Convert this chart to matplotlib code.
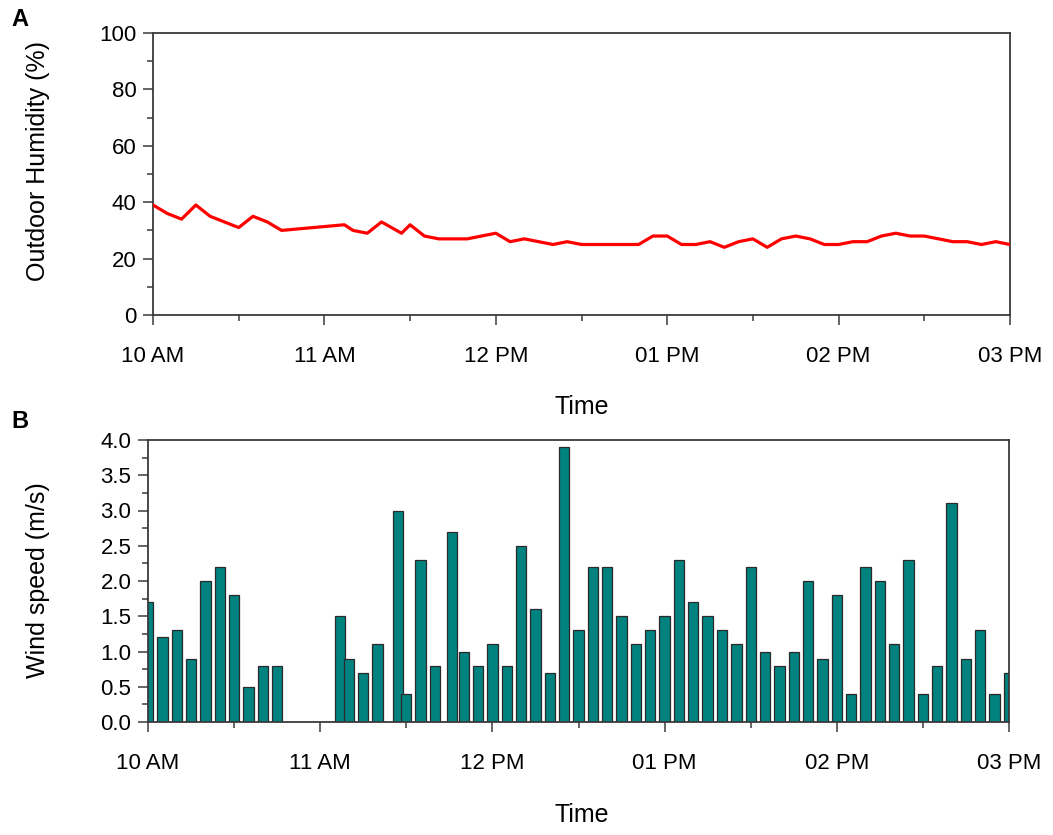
import matplotlib
matplotlib.use("Agg")
import matplotlib.pyplot as plt
from matplotlib.ticker import MultipleLocator
import numpy as np

plt.rcParams['font.family'] = ['Liberation Sans', 'DejaVu Sans']

# ---- Data (minutes after 10:00) ----
hum_minutes = [0, 5, 10, 15, 20, 25, 30, 35, 40, 45,
               67, 70, 75, 80, 87, 90, 95, 100, 106, 110, 115, 120, 125, 130, 135, 140,
               145, 150, 155, 160, 165, 170, 175, 180, 185, 190, 195, 200, 205, 210,
               215, 220, 225, 230, 235, 240, 245, 250, 255, 260, 265, 270, 275, 280,
               285, 290, 295, 300]
humidity = [39, 36, 34, 39, 35, 33, 31, 35, 33, 30,
            32, 30, 29, 33, 29, 32, 28, 27, 27, 27, 28, 29, 26, 27, 26, 25,
            26, 25, 25, 25, 25, 25, 28, 28, 25, 25, 26, 24, 26, 27,
            24, 27, 28, 27, 25, 25, 26, 26, 28, 29, 28, 28, 27, 26,
            26, 25, 26, 25]

wind_minutes = [0, 5, 10, 15, 20, 25, 30, 35, 40, 45,
                67, 70, 75, 80, 87, 90, 95, 100, 106, 110, 115, 120, 125, 130, 135, 140,
                145, 150, 155, 160, 165, 170, 175, 180, 185, 190, 195, 200, 205, 210,
                215, 220, 225, 230, 235, 240, 245, 250, 255, 260, 265, 270, 275, 280,
                285, 290, 295, 300]
wind_speed = [1.7, 1.2, 1.3, 0.9, 2.0, 2.2, 1.8, 0.5, 0.8, 0.8,
              1.5, 0.9, 0.7, 1.1, 3.0, 0.4, 2.3, 0.8, 2.7, 1.0, 0.8, 1.1, 0.8, 2.5, 1.6, 0.7,
              3.9, 1.3, 2.2, 2.2, 1.5, 1.1, 1.3, 1.5, 2.3, 1.7, 1.5, 1.3, 1.1, 2.2,
              1.0, 0.8, 1.0, 2.0, 0.9, 1.8, 0.4, 2.2, 2.0, 1.1, 2.3, 0.4, 0.8, 3.1,
              0.9, 1.3, 0.4, 0.7]

hour_ticks = [10, 11, 12, 13, 14, 15]
hour_labels = ['10 AM', '11 AM', '12 PM', '01 PM', '02 PM', '03 PM']

hum_hours = 10 + np.array(hum_minutes) / 60.0
wind_hours = 10 + np.array(wind_minutes) / 60.0

W, H = 1053, 835
fig = plt.figure(figsize=(W / 100, H / 100), dpi=100)

def ax_rect(l, r, t, b):
    return [l / W, 1 - b / H, (r - l) / W, (b - t) / H]

spine_col = '#3a3a3a'
fs = 16
lfs = 18

def style(ax):
    for s in ax.spines.values():
        s.set_color(spine_col)
        s.set_linewidth(1.3)
    ax.tick_params(which='both', direction='out', color=spine_col, width=1.1,
                   labelsize=fs, top=False, right=False)
    ax.tick_params(which='major', length=7)
    ax.tick_params(axis='y', which='major', pad=5)
    ax.tick_params(axis='x', which='major', pad=15)
    ax.tick_params(which='minor', length=4)
    ax.set_xlim(10, 15)
    ax.set_xticks(hour_ticks)
    ax.set_xticklabels(hour_labels)
    ax.xaxis.set_minor_locator(MultipleLocator(0.5))

# ---- Panel A ----
ax1 = fig.add_axes(ax_rect(153, 1010, 33, 315))
ax1.plot(hum_hours, humidity, color='#ff0000', linewidth=2.3, zorder=3)
style(ax1)
ax1.set_ylim(0, 100)
ax1.yaxis.set_major_locator(MultipleLocator(20))
ax1.yaxis.set_minor_locator(MultipleLocator(10))

# ---- Panel B ----
ax2 = fig.add_axes(ax_rect(148, 1009, 440, 722))
ax2.bar(wind_hours, wind_speed, width=0.06, color='#00827f', edgecolor='#2a2a2a',
        linewidth=0.9, zorder=2)
style(ax2)
ax2.set_ylim(0, 4.0)
ax2.set_yticks(np.arange(0, 4.01, 0.5))
ax2.set_yticklabels([f'{v:.1f}' for v in np.arange(0, 4.01, 0.5)])
ax2.yaxis.set_minor_locator(MultipleLocator(0.25))

# ---- Labels ----
fig.text(38 / W, 1 - 161 / H, 'Outdoor Humidity (%)', rotation=90, ha='center', va='center', fontsize=lfs)
fig.text(38 / W, 1 - 580 / H, 'Wind speed (m/s)', rotation=90, ha='center', va='center', fontsize=lfs)
fig.text(582 / W, 1 - 407 / H, 'Time', ha='center', va='center', fontsize=lfs)
fig.text(582 / W, 1 - 815 / H, 'Time', ha='center', va='center', fontsize=lfs)
fig.text(20 / W, 1 - 19 / H, 'A', ha='center', va='center', fontsize=17, fontweight='bold')
fig.text(20 / W, 1 - 421 / H, 'B', ha='center', va='center', fontsize=17, fontweight='bold')

fig.savefig('out.png', dpi=100)
